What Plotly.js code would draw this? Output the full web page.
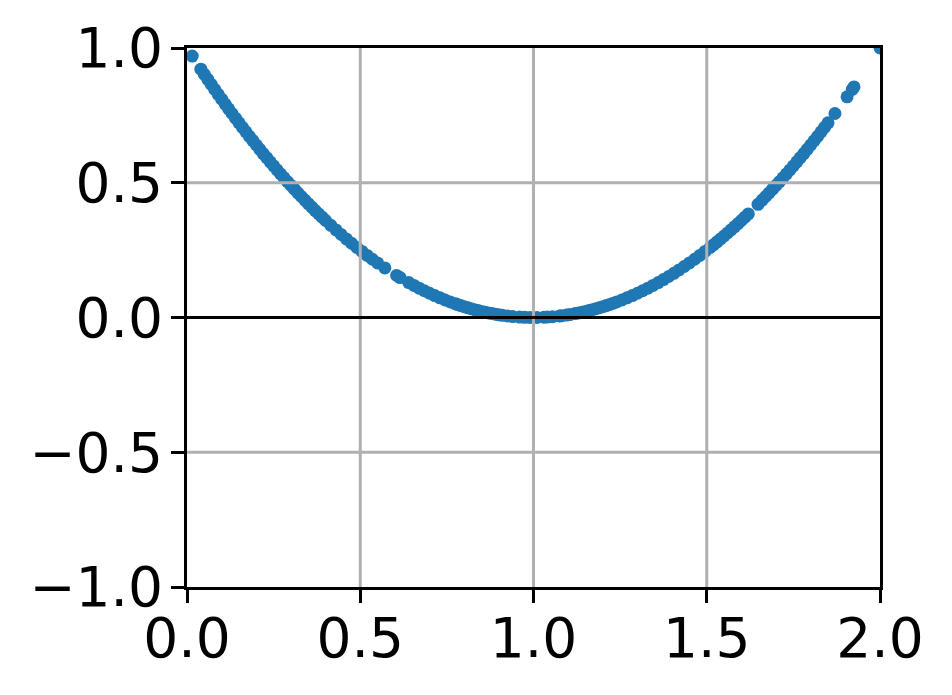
<!DOCTYPE html>
<html>
<head>
<meta charset="utf-8">
<script src="https://cdn.plot.ly/plotly-3.0.1.min.js"></script>
<style>
html,body{margin:0;padding:0;background:#fff;}
#chart{width:952px;height:695px;}
</style>
</head>
<body>
<div id="chart"></div>
<script>
// Sample points
const xValues = [
  0.015, 0.04,
  0.05, 0.06, 0.07, 0.08, 0.09, 0.10, 0.11, 0.12, 0.13, 0.14,
  0.15, 0.16, 0.17, 0.18, 0.19, 0.20, 0.21, 0.22, 0.23, 0.24,
  0.25, 0.26, 0.27, 0.28, 0.29, 0.30, 0.31, 0.32, 0.33, 0.34,
  0.35, 0.36, 0.37, 0.38, 0.39, 0.40,
  0.415, 0.43, 0.445, 0.46, 0.475, 0.49, 0.505, 0.52, 0.535, 0.55,
  0.571, 0.605, 0.615,
  0.64, 0.655, 0.67, 0.685, 0.70, 0.715, 0.73, 0.745,
  0.76, 0.775, 0.78, 0.79, 0.80, 0.81, 0.82, 0.83, 0.84, 0.85,
  0.86, 0.87, 0.88, 0.89, 0.90, 0.91, 0.925, 0.94, 0.96, 0.975,
  0.99, 1.01, 1.03, 1.04, 1.055, 1.075, 1.08, 1.095, 1.105, 1.12,
  1.13, 1.14, 1.15, 1.16, 1.17, 1.18, 1.19, 1.20, 1.21, 1.22, 1.23, 1.24,
  1.255, 1.27, 1.285,
  1.30, 1.315, 1.33, 1.345, 1.36, 1.375, 1.39, 1.405, 1.42, 1.435,
  1.45, 1.465, 1.48, 1.495, 1.51, 1.52, 1.53, 1.54, 1.55, 1.56,
  1.57, 1.58, 1.59, 1.60, 1.61, 1.62,
  1.648, 1.66, 1.67, 1.68, 1.69, 1.70, 1.71, 1.72, 1.73, 1.74,
  1.75, 1.76, 1.77, 1.78, 1.79, 1.80, 1.81, 1.82, 1.83, 1.84, 1.85,
  1.87, 1.905, 1.92, 1.925,
  2.0
];
const yValues = [
  0.970, 0.9216,
  0.9025, 0.8836, 0.8649, 0.8464, 0.8281, 0.81, 0.7921, 0.7744, 0.7569, 0.7396,
  0.7225, 0.7056, 0.6889, 0.6724, 0.6561, 0.64, 0.6241, 0.6084, 0.5929, 0.5776,
  0.5625, 0.5476, 0.5329, 0.5184, 0.5041, 0.49, 0.4761, 0.4624, 0.4489, 0.4356,
  0.4225, 0.4096, 0.3969, 0.3844, 0.3721, 0.36,
  0.3422, 0.3249, 0.3080, 0.2916, 0.2756, 0.2601, 0.2450, 0.2304, 0.2162, 0.2025,
  0.1840, 0.1560, 0.1482,
  0.1296, 0.1190, 0.1089, 0.0992, 0.09, 0.0812, 0.0729, 0.0650,
  0.0576, 0.0506, 0.0484, 0.0441, 0.04, 0.0361, 0.0324, 0.0289, 0.0256, 0.0225,
  0.0196, 0.0169, 0.0144, 0.0121, 0.01, 0.0081, 0.0056, 0.0036, 0.0016, 0.0006,
  0.0001, 0.0001, 0.0009, 0.0016, 0.0030, 0.0056, 0.0064, 0.0090, 0.0110, 0.0144,
  0.0169, 0.0196, 0.0225, 0.0256, 0.0289, 0.0324, 0.0361, 0.04, 0.0441, 0.0484, 0.0529, 0.0576,
  0.0650, 0.0729, 0.0812,
  0.09, 0.0992, 0.1089, 0.1190, 0.1296, 0.1406, 0.1521, 0.1640, 0.1764, 0.1892,
  0.2025, 0.2162, 0.2304, 0.2450, 0.2601, 0.2704, 0.2809, 0.2916, 0.3025, 0.3136,
  0.3249, 0.3364, 0.3481, 0.36, 0.3721, 0.3844,
  0.4199, 0.4356, 0.4489, 0.4624, 0.4761, 0.49, 0.5041, 0.5184, 0.5329, 0.5476,
  0.5625, 0.5776, 0.5929, 0.6084, 0.6241, 0.64, 0.6561, 0.6724, 0.6889, 0.7056, 0.7225,
  0.7569, 0.8190, 0.8464, 0.8556,
  1.0
];
const xTicks = [0.0, 0.5, 1.0, 1.5, 2.0];
const yTicks = [-1.0, -0.5, 0.0, 0.5, 1.0];
const xTickLabels = ['0.0', '0.5', '1.0', '1.5', '2.0'];
const yTickLabels = ['\u22121.0', '\u22120.5', '0.0', '0.5', '1.0'];

const gridColor = '#b0b0b0';
const shapes = [];
// grid lines drawn above the points, as in the reference
xTicks.slice(1, -1).forEach(v => shapes.push({
  type: 'line', layer: 'above', xref: 'x', yref: 'paper', x0: v, x1: v, y0: 0, y1: 1,
  line: {color: gridColor, width: 3}
}));
yTicks.slice(1, -1).forEach(v => shapes.push({
  type: 'line', layer: 'above', xref: 'paper', yref: 'y', x0: 0, x1: 1, y0: v, y1: v,
  line: {color: v === 0 ? '#000000' : gridColor, width: 3}
}));

const trace = {
  x: xValues, y: yValues, type: 'scatter', mode: 'markers',
  marker: {color: '#1f77b4', size: 13, line: {width: 0}},
  cliponaxis: true, hoverinfo: 'x+y'
};

const font = {family: 'DejaVu Sans', size: 55, color: '#000000'};
const axisCommon = {
  showgrid: false, zeroline: false,
  showline: true, linecolor: '#000000', linewidth: 3, mirror: true,
  ticks: 'outside', ticklen: 13, tickwidth: 3, tickcolor: '#000000',
  tickfont: font, layer: 'above traces', fixedrange: true
};

const layout = {
  width: 952, height: 695,
  margin: {l: 187, r: 72, t: 48, b: 108, pad: 0},
  paper_bgcolor: '#ffffff', plot_bgcolor: '#ffffff',
  showlegend: false,
  xaxis: Object.assign({}, axisCommon, {
    range: [0, 2], tickmode: 'array', tickvals: xTicks, ticktext: xTickLabels,
    ticklabelstandoff: -12
  }),
  yaxis: Object.assign({}, axisCommon, {
    range: [-1, 1], tickmode: 'array', tickvals: yTicks, ticktext: yTickLabels,
    ticklabelstandoff: -3
  }),
  shapes: shapes
};

Plotly.newPlot('chart', [trace], layout, {displayModeBar: false, staticPlot: true});
</script>
</body>
</html>
